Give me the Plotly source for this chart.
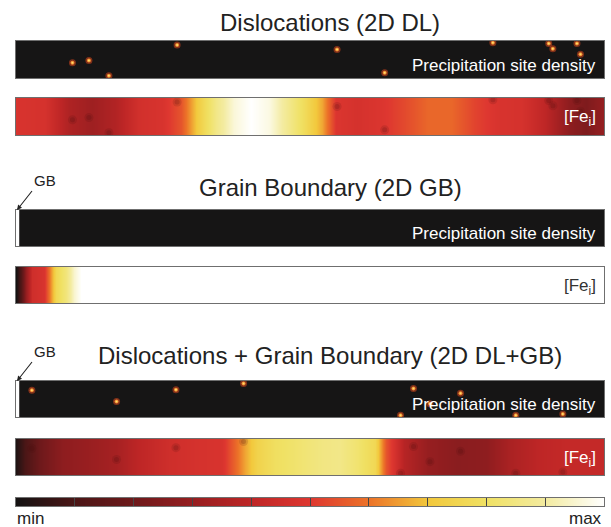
import plotly.graph_objects as go

W, H = 611, 527

# ---- data -------------------------------------------------------------
# Precipitation sites (fraction along the cell, height from the bottom)
dl_site_x = [0.096, 0.124, 0.158, 0.274, 0.546, 0.627, 0.811, 0.906, 0.913, 0.954, 0.960]
dl_site_y = [0.41, 0.47, 0.06, 0.89, 0.77, 0.14, 0.95, 0.93, 0.79, 0.93, 0.64]

dlgb_site_x = [0.027, 0.171, 0.272, 0.387, 0.654, 0.676, 0.704, 0.756, 0.850, 0.930]
dlgb_site_y = [0.74, 0.43, 0.76, 0.93, 0.05, 0.79, 0.37, 0.66, 0.05, 0.08]

# Interstitial iron concentration along the cell (0 = min, 1 = max)
dl_fe_x = [0, 0.05, 0.09, 0.13, 0.17, 0.21, 0.25, 0.28, 0.31, 0.34, 0.37, 0.40,
           0.43, 0.46, 0.49, 0.52, 0.545, 0.58, 0.62, 0.66, 0.70, 0.74, 0.78,
           0.82, 0.86, 0.90, 0.94, 0.97, 1.0]
dl_fe = [0.48, 0.47, 0.36, 0.32, 0.37, 0.46, 0.48, 0.55, 0.72, 0.86, 0.96, 1.0,
         0.97, 0.88, 0.78, 0.66, 0.49, 0.47, 0.49, 0.53, 0.58, 0.58, 0.52,
         0.48, 0.47, 0.40, 0.28, 0.24, 0.30]

gb_fe_x = [0, 0.0085, 0.017, 0.027, 0.048, 0.058, 0.068, 0.085, 0.099, 0.111, 1.0]
gb_fe = [0.0, 0.12, 0.30, 0.45, 0.48, 0.62, 0.76, 0.84, 0.95, 1.0, 1.0]

dlgb_fe_x = [0, 0.015, 0.04, 0.08, 0.13, 0.17, 0.21, 0.26, 0.31, 0.35, 0.37, 0.39,
             0.41, 0.44, 0.48, 0.52, 0.55, 0.58, 0.61, 0.63, 0.66, 0.70, 0.75,
             0.80, 0.84, 0.89, 0.94, 1.0]
dlgb_fe = [0.02, 0.10, 0.20, 0.28, 0.31, 0.34, 0.40, 0.45, 0.47, 0.48, 0.57, 0.66,
           0.74, 0.79, 0.82, 0.85, 0.86, 0.82, 0.76, 0.55, 0.38, 0.30, 0.27,
           0.28, 0.35, 0.40, 0.42, 0.42]

# Colour bar levels and tick positions
cbar_levels = [0.0, 0.1, 0.2, 0.3, 0.4, 0.5, 0.6, 0.7, 0.8, 0.9, 1.0]
cbar_ticks = [0.1, 0.2, 0.3, 0.4, 0.5, 0.6, 0.7, 0.8, 0.9]

hot = [
    [0.0, "rgb(20,18,18)"],
    [0.1, "rgb(75,22,22)"],
    [0.2, "rgb(110,25,27)"],
    [0.3, "rgb(150,30,32)"],
    [0.4, "rgb(190,38,38)"],
    [0.5, "rgb(222,55,48)"],
    [0.6, "rgb(236,115,40)"],
    [0.7, "rgb(242,200,60)"],
    [0.8, "rgb(240,225,100)"],
    [0.9, "rgb(243,235,160)"],
    [1.0, "rgb(255,255,255)"],
]

FONT = "Liberation Sans, Arial, Helvetica, sans-serif"
LEFT, RIGHT = 16, 604

# panel rows in pixels (top, bottom)
rows = {
    1: (41, 78),    # DL precipitation
    2: (98, 135),   # DL iron
    3: (210, 246),  # GB precipitation
    4: (267, 303),  # GB iron
    5: (381, 417),  # DL+GB precipitation
    6: (439, 475),  # DL+GB iron
    7: (498, 506),  # colour bar
}


def fx(p):
    return p / W


def fy(p):
    return 1 - p / H


fig = go.Figure()

# iron concentration maps
for idx, (xs, zs) in {2: (dl_fe_x, dl_fe), 4: (gb_fe_x, gb_fe), 6: (dlgb_fe_x, dlgb_fe)}.items():
    fig.add_trace(go.Heatmap(
        x=xs, y=[0, 1], z=[zs, zs], zmin=0, zmax=1, zsmooth="best",
        colorscale=hot, showscale=False, hoverinfo="skip",
        xaxis=f"x{idx}", yaxis=f"y{idx}",
    ))

# sinks at the precipitation sites inside the iron maps
for idx, (sx, sy) in {2: (dl_site_x, dl_site_y), 6: (dlgb_site_x, dlgb_site_y)}.items():
    fig.add_trace(go.Scatter(
        x=sx, y=sy, mode="markers",
        marker=dict(size=9, color="rgba(70,12,12,0.14)", line=dict(width=0)),
        xaxis=f"x{idx}", yaxis=f"y{idx}", hoverinfo="skip", showlegend=False,
    ))
    fig.add_trace(go.Scatter(
        x=sx, y=sy, mode="markers",
        marker=dict(size=5, color="rgba(70,12,12,0.18)", line=dict(width=0)),
        xaxis=f"x{idx}", yaxis=f"y{idx}", hoverinfo="skip", showlegend=False,
    ))

# precipitation site density
for idx, (sx, sy) in {1: (dl_site_x, dl_site_y), 5: (dlgb_site_x, dlgb_site_y)}.items():
    fig.add_trace(go.Scatter(
        x=sx, y=sy, mode="markers",
        marker=dict(size=7, color="rgba(215,70,30,0.55)", line=dict(width=0)),
        xaxis=f"x{idx}", yaxis=f"y{idx}", hoverinfo="skip", showlegend=False,
    ))
    fig.add_trace(go.Scatter(
        x=sx, y=sy, mode="markers",
        marker=dict(size=4, color="rgb(240,140,50)", line=dict(width=0)),
        xaxis=f"x{idx}", yaxis=f"y{idx}", hoverinfo="skip", showlegend=False,
    ))
    fig.add_trace(go.Scatter(
        x=sx, y=sy, mode="markers",
        marker=dict(size=2, color="rgb(255,225,110)", line=dict(width=0)),
        xaxis=f"x{idx}", yaxis=f"y{idx}", hoverinfo="skip", showlegend=False,
    ))

# colour bar
fig.add_trace(go.Heatmap(
    x=cbar_levels, y=[0.5, 1.0], z=[cbar_levels, cbar_levels], zmin=0, zmax=1,
    zsmooth="best", colorscale=hot, showscale=False, hoverinfo="skip",
    xaxis="x7", yaxis="y7",
))

layout = dict(
    width=W, height=H, margin=dict(l=0, r=0, t=0, b=0),
    paper_bgcolor="white", plot_bgcolor="white", showlegend=False,
    font=dict(family=FONT, color="#222"),
)

for idx, (top, bot) in rows.items():
    xa = dict(domain=[fx(LEFT), fx(RIGHT)], range=[0, 1], anchor=f"y{idx}",
              showgrid=False, zeroline=False, showticklabels=False,
              showline=True, mirror=True, linecolor="#6f6f6f", linewidth=1,
              fixedrange=True)
    ya = dict(domain=[fy(bot), fy(top)], range=[0, 1], anchor=f"x{idx}",
              showgrid=False, zeroline=False, showticklabels=False,
              showline=True, mirror=True, linecolor="#6f6f6f", linewidth=1,
              fixedrange=True)
    if idx == 7:
        xa.update(tickmode="array", tickvals=cbar_ticks,
                  ticks="inside", ticklen=8, tickcolor="#444", tickwidth=1)
        ya.update(range=[0.5, 1.0])
    key = "" if idx == 1 else str(idx)
    layout[f"xaxis{key}"] = xa
    layout[f"yaxis{key}"] = ya

fig.update_layout(**layout)

shapes = []
# dark background of the site-density maps
for idx in (1, 3, 5):
    shapes.append(dict(type="rect", xref=f"x{idx}", yref=f"y{idx}", x0=0, x1=1, y0=0, y1=1,
                       fillcolor="rgb(22,21,21)", line=dict(width=0), layer="below"))
# grain boundary at the left edge
for idx in (3, 5):
    shapes.append(dict(type="rect", xref=f"x{idx}", yref=f"y{idx}", x0=0, x1=0.0055, y0=0, y1=1,
                       fillcolor="white", line=dict(width=0), layer="above"))
fig.update_layout(shapes=shapes)

ann = []
titles = [("Dislocations (2D DL)", 22), ("Grain Boundary (2D GB)", 188),
          ("Dislocations + Grain Boundary (2D DL+GB)", 355)]
for text, yc in titles:
    ann.append(dict(text=text, x=fx(330), y=fy(yc), xref="paper", yref="paper",
                    showarrow=False, xanchor="center", yanchor="middle",
                    font=dict(size=24, color="#222", family=FONT)))

for idx in (1, 3, 5):
    top, bot = rows[idx]
    ann.append(dict(text="Precipitation site density", x=fx(598), y=fy(top + 0.66 * (bot - top)),
                    xref="paper", yref="paper", showarrow=False, xanchor="right",
                    yanchor="middle", font=dict(size=17, color="white", family=FONT)))
for idx, col in ((2, "white"), (4, "#333"), (6, "white")):
    top, bot = rows[idx]
    ann.append(dict(text="[Fe<sub>i</sub>]", x=fx(598), y=fy(top + 0.55 * (bot - top)),
                    xref="paper", yref="paper", showarrow=False, xanchor="right",
                    yanchor="middle", font=dict(size=17, color=col, family=FONT)))

# grain-boundary pointers
for idx in (3, 5):
    top, _ = rows[idx]
    ann.append(dict(text="GB", x=fx(17), y=fy(top), xref="paper", yref="paper",
                    ax=15, ay=-19, showarrow=True, arrowhead=2, arrowsize=0.9,
                    arrowwidth=1.1, arrowcolor="#222", standoff=0,
                    xanchor="left", yanchor="bottom",
                    font=dict(size=15, color="#222", family=FONT)))

ann.append(dict(text="min", x=fx(15), y=fy(518), xref="paper", yref="paper",
                showarrow=False, xanchor="left", yanchor="middle",
                font=dict(size=17, color="#222", family=FONT)))
ann.append(dict(text="max", x=fx(604), y=fy(518), xref="paper", yref="paper",
                showarrow=False, xanchor="right", yanchor="middle",
                font=dict(size=17, color="#222", family=FONT)))
fig.update_layout(annotations=ann)

fig.write_html("out.html")
